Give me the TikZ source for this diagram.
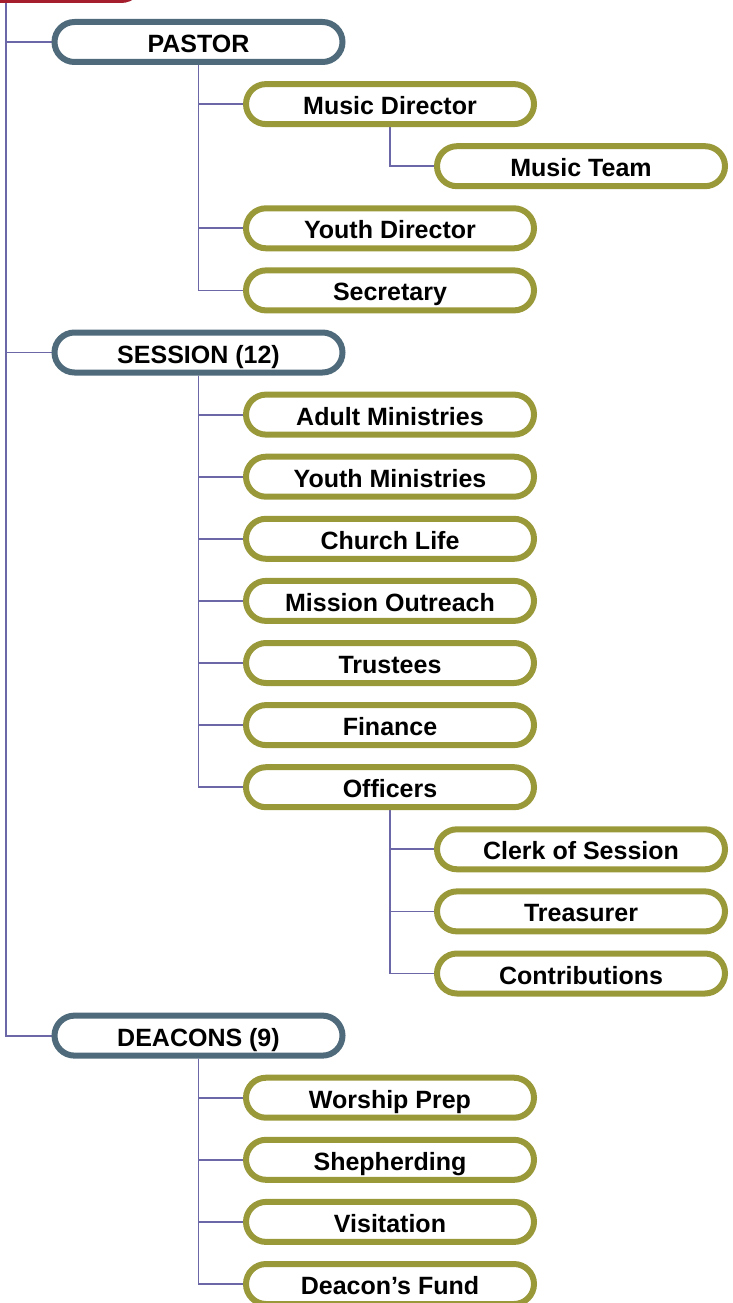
\documentclass[tikz,border=0pt]{standalone}
\usepackage{fontspec}
\setmainfont{Liberation Sans}
\usetikzlibrary{backgrounds}
\definecolor{slate}{HTML}{4E6A7B}
\definecolor{olive}{HTML}{9A993A}
\definecolor{crimson}{HTML}{A41E2E}
\definecolor{linkc}{HTML}{6C68A8}
\begin{document}
\begin{tikzpicture}[x=1pt,y=-1pt,
  box/.style={draw,line width=6pt,rounded corners=20pt,fill=white,minimum width=288pt,minimum height=40pt,inner sep=0pt,text height=21pt,text depth=0pt,font=\fontsize{25}{28}\selectfont\bfseries},
  lvlone/.style={box,draw=slate},
  lvltwo/.style={box,draw=olive},
  link/.style={draw=linkc,line width=1.8pt}]
\useasboundingbox (0,0) rectangle (733,1303);

\node[box,draw=crimson] (council) at (-3,-20) {};

\node[lvlone] (pastor) at (198.5,42) {PASTOR};
\node[lvltwo] (musicdir) at (390,104.1) {Music Director};
\node[lvltwo] (musicteam) at (581,166.2) {Music Team};
\node[lvltwo] (youthdir) at (390,228.3) {Youth Director};
\node[lvltwo] (secretary) at (390,290.4) {Secretary};

\node[lvlone] (session) at (198.5,352.5) {SESSION (12)};
\node[lvltwo] (adult) at (390,414.6) {Adult Ministries};
\node[lvltwo] (youthmin) at (390,476.7) {Youth Ministries};
\node[lvltwo] (churchlife) at (390,538.8) {Church Life};
\node[lvltwo] (mission) at (390,600.9) {Mission Outreach};
\node[lvltwo] (trustees) at (390,663) {Trustees};
\node[lvltwo] (finance) at (390,725.1) {Finance};
\node[lvltwo] (officers) at (390,787.2) {Officers};
\node[lvltwo] (clerk) at (581,849.3) {Clerk of Session};
\node[lvltwo] (treasurer) at (581,911.4) {Treasurer};
\node[lvltwo] (contrib) at (581,973.5) {Contributions};

\node[lvlone] (deacons) at (198.5,1035.6) {DEACONS (9)};
\node[lvltwo] (worship) at (390,1097.7) {Worship Prep};
\node[lvltwo] (shepherd) at (390,1159.8) {Shepherding};
\node[lvltwo] (visit) at (390,1221.9) {Visitation};
\node[lvltwo] (fund) at (390,1284) {Deacon’s Fund};

\coordinate (trunk) at (6,0);

\begin{scope}[on background layer]
\draw[link] (trunk) |- (pastor.west);
\draw[link] (trunk) |- (session.west);
\draw[link] (trunk) |- (deacons.west);

\draw[link] (pastor.south) |- (musicdir.west);
\draw[link] (pastor.south) |- (youthdir.west);
\draw[link] (pastor.south) |- (secretary.west);
\draw[link] (musicdir.south) |- (musicteam.west);

\draw[link] (session.south) |- (adult.west);
\draw[link] (session.south) |- (youthmin.west);
\draw[link] (session.south) |- (churchlife.west);
\draw[link] (session.south) |- (mission.west);
\draw[link] (session.south) |- (trustees.west);
\draw[link] (session.south) |- (finance.west);
\draw[link] (session.south) |- (officers.west);
\draw[link] (officers.south) |- (clerk.west);
\draw[link] (officers.south) |- (treasurer.west);
\draw[link] (officers.south) |- (contrib.west);

\draw[link] (deacons.south) |- (worship.west);
\draw[link] (deacons.south) |- (shepherd.west);
\draw[link] (deacons.south) |- (visit.west);
\draw[link] (deacons.south) |- (fund.west);
\end{scope}
\end{tikzpicture}
\end{document}
